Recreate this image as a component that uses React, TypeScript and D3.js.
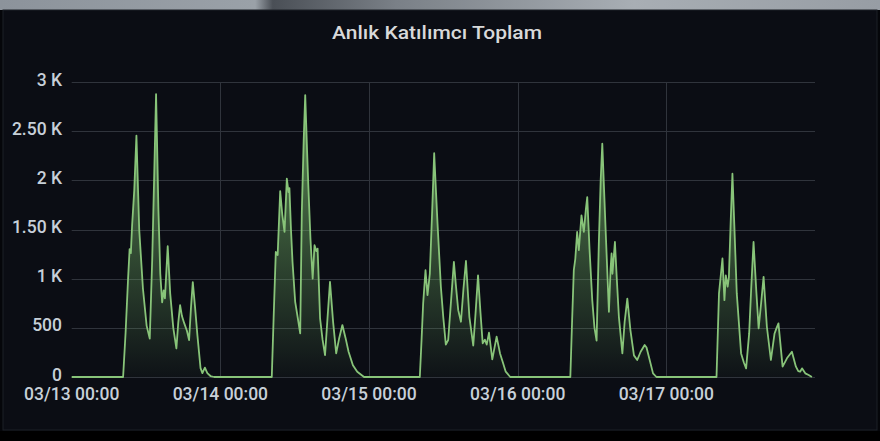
import React, { useEffect, useRef } from 'react';
import * as d3 from 'd3';

// hour of day -> participants
const day13: [number, number][] = [
  [0, 0], [8.3, 0], [8.7, 450], [9.1, 1000], [9.35, 1300], [9.55, 1260], [9.75, 1540], [10.1, 1900],
  [10.45, 2455], [10.9, 1500], [11.5, 900], [12.1, 520], [12.6, 390], [13.0, 1200], [13.3, 2000],
  [13.62, 2877], [14.0, 1700], [14.3, 1050], [14.6, 760], [14.85, 880], [15.05, 800], [15.5, 1330],
  [15.9, 850], [16.4, 500], [16.9, 290], [17.2, 550], [17.5, 730], [17.8, 620], [18.15, 550],
  [18.6, 470], [18.95, 375], [19.25, 700], [19.55, 965], [19.9, 720], [20.3, 420], [20.8, 90],
  [21.1, 40], [21.5, 95], [21.9, 40], [22.4, 10], [23, 0],
];
const day14: [number, number][] = [
  [8.3, 0], [8.6, 600], [8.95, 1272], [9.25, 1240], [9.66, 1890], [10.0, 1650], [10.36, 1475],
  [10.73, 2017], [11.0, 1880], [11.15, 1920], [11.4, 1500], [11.65, 1170], [12.08, 765], [12.5, 600],
  [12.89, 443], [13.15, 1678], [13.45, 2400], [13.7, 2867], [14.0, 2300], [14.2, 1950], [14.55, 1400],
  [14.9, 1000], [15.2, 1340], [15.5, 1280], [15.7, 1305], [16.1, 595], [16.5, 380], [16.9, 223],
  [17.3, 600], [17.7, 967], [18.2, 560], [18.7, 240], [19.2, 400], [19.7, 528], [20.2, 400],
  [20.7, 257], [21.4, 120], [22.1, 54], [23.2, 0],
];
const day15: [number, number][] = [
  [8.2, 0], [8.5, 400], [8.74, 748], [9.12, 1086], [9.44, 832], [9.82, 1052], [10.2, 1700],
  [10.52, 2276], [10.8, 1900], [11.06, 1560], [11.6, 918], [12.0, 600], [12.4, 330], [12.78, 376],
  [13.33, 850], [13.7, 1170], [14.0, 950], [14.4, 680], [14.84, 562], [15.25, 900], [15.65, 1180],
  [16.2, 612], [16.83, 320], [17.2, 650], [17.6, 1034], [18.0, 650], [18.35, 343], [18.7, 380],
  [19.0, 330], [19.37, 450], [19.9, 180], [20.6, 410], [21.15, 240], [21.6, 150], [22.07, 54], [22.8, 0],
];
const day16: [number, number][] = [
  [8.5, 0], [8.8, 600], [9.06, 1086], [9.3, 1200], [9.6, 1475], [9.87, 1290], [10.3, 1643],
  [10.68, 1475], [11.0, 1700], [11.23, 1829], [11.6, 1300], [12.04, 782], [12.4, 500], [12.74, 370],
  [13.1, 1357], [13.4, 2000], [13.66, 2372], [13.95, 1900], [14.2, 1492], [14.73, 663], [15.0, 1100],
  [15.16, 1256], [15.3, 1050], [15.7, 1373], [16.0, 1000], [16.34, 612], [16.9, 240], [17.27, 562],
  [17.7, 798], [18.2, 477], [18.77, 220], [19.3, 173], [19.85, 257], [20.5, 325], [20.8, 300],
  [21.2, 200], [21.85, 37], [22.4, 0],
];
const day17: [number, number][] = [
  [8.1, 0], [8.5, 850], [9.06, 1205], [9.38, 782], [9.6, 1034], [9.9, 918], [10.1, 1019], [10.4, 1600],
  [10.67, 2067], [11.0, 1500], [11.37, 850], [12.07, 240], [12.5, 150], [12.88, 88], [13.37, 443],
  [13.7, 900], [14.08, 1373], [14.5, 900], [14.9, 494], [15.3, 750], [15.7, 1019], [16.23, 511],
  [16.88, 173], [17.47, 443], [17.8, 500], [18.1, 545], [18.77, 105], [19.47, 190], [20.27, 257],
  [20.92, 105], [21.3, 60], [21.6, 54], [21.9, 88], [22.43, 37], [22.97, 20], [23.5, 0],
];

const days = [day13, day14, day15, day16, day17];
const yTicks = [0, 500, 1000, 1500, 2000, 2500, 3000];
const yTickLabels = ['0', '500', '1 K', '1.50 K', '2 K', '2.50 K', '3 K'];
const title = 'Anlık Katılımcı Toplam';

const W = 880;
const H = 441;
const start = new Date(2021, 2, 13, 0, 0);
const end = new Date(2021, 2, 18, 0, 0);

const App = () => {
  const ref = useRef<SVGSVGElement>(null);

  useEffect(() => {
    document.body.style.margin = '0';
    const svg = d3.select(ref.current);
    svg.selectAll('*').remove();

    const x = d3.scaleTime().domain([start, end]).range([71.7, 815]);
    const y = d3.scaleLinear().domain([0, 3000]).range([377, 82]);

    const data = days.flatMap((d, i) =>
      d.map(([h, v]) => ({ t: new Date(start.getTime() + (i * 24 + h) * 3600e3), v }))
    );

    // backdrop
    const defs = svg.append('defs');
    const top = defs.append('linearGradient').attr('id', 'topstrip');
    [
      [0, '#8c939b'], [0.29, '#9aa1a8'], [0.31, '#4a4f56'], [0.45, '#7a8087'], [0.72, '#a8aeb4'], [1, '#979da4'],
    ].forEach(([o, c]) => top.append('stop').attr('offset', o as number).attr('stop-color', c as string));

    const fill = defs
      .append('linearGradient')
      .attr('id', 'areafill')
      .attr('gradientUnits', 'userSpaceOnUse')
      .attr('x1', 0).attr('x2', 0)
      .attr('y1', y(3000)).attr('y2', y(0));
    fill.append('stop').attr('offset', 0).attr('stop-color', '#7ec36f').attr('stop-opacity', 0.75);
    fill.append('stop').attr('offset', 1).attr('stop-color', '#7ec36f').attr('stop-opacity', 0.03);

    svg.append('rect').attr('width', W).attr('height', H).attr('fill', '#05060a');
    svg.append('rect').attr('width', W).attr('height', 10).attr('fill', 'url(#topstrip)');
    svg
      .append('rect')
      .attr('x', 3).attr('y', 10).attr('width', 874).attr('height', 420)
      .attr('fill', '#0b0d14')
      .attr('stroke', '#1d2027');
    svg.append('rect').attr('x', 0).attr('y', 431).attr('width', W).attr('height', 10).attr('fill', '#000');

    svg
      .append('text')
      .attr('x', 437).attr('y', 34)
      .attr('text-anchor', 'middle')
      .attr('dominant-baseline', 'middle')
      .attr('fill', '#d8d9da')
      .attr('textLength', 210)
      .attr('lengthAdjust', 'spacingAndGlyphs')
      .style('font-family', 'Roboto, sans-serif')
      .style('font-weight', 500)
      .style('font-size', '19px')
      .text(title);

    // grid
    const grid = svg.append('g').attr('stroke', '#30343c').attr('stroke-width', 1);
    grid
      .selectAll('line.h')
      .data(yTicks)
      .enter()
      .append('line')
      .attr('x1', x.range()[0]).attr('x2', x.range()[1])
      .attr('y1', (d) => Math.round(y(d)) + 0.5)
      .attr('y2', (d) => Math.round(y(d)) + 0.5);

    const dayTicks = d3.timeDay.range(start, end);
    grid
      .selectAll('line.v')
      .data(dayTicks.slice(1))
      .enter()
      .append('line')
      .attr('x1', (d) => Math.round(x(d)) + 0.5).attr('x2', (d) => Math.round(x(d)) + 0.5)
      .attr('y1', y(3000)).attr('y2', y(0));

    const labelStyle = (s: any) =>
      s
        .attr('fill', '#c7d0d9')
        .style('font-family', 'Roboto, sans-serif')
        .style('font-weight', 500)
        .style('font-size', '17.5px');

    svg
      .append('g')
      .selectAll('text')
      .data(yTicks)
      .enter()
      .append('text')
      .attr('x', 62)
      .attr('y', (d) => y(d) - 1)
      .attr('text-anchor', 'end')
      .attr('dominant-baseline', 'middle')
      .text((d, i) => yTickLabels[i])
      .call(labelStyle);

    const fmt = d3.timeFormat('%m/%d %H:%M');
    svg
      .append('g')
      .selectAll('text')
      .data(dayTicks)
      .enter()
      .append('text')
      .attr('x', (d) => x(d))
      .attr('y', 395)
      .attr('text-anchor', 'middle')
      .attr('dominant-baseline', 'middle')
      .text((d) => fmt(d))
      .call(labelStyle);

    // series
    const area = d3
      .area<{ t: Date; v: number }>()
      .x((d) => x(d.t))
      .y0(y(0))
      .y1((d) => y(d.v));
    const line = d3
      .line<{ t: Date; v: number }>()
      .x((d) => x(d.t))
      .y((d) => y(d.v));

    svg.append('path').datum(data).attr('d', area).attr('fill', 'url(#areafill)');
    svg
      .append('path')
      .datum(data)
      .attr('d', line)
      .attr('fill', 'none')
      .attr('stroke', '#88c479')
      .attr('stroke-width', 1.8)
      .attr('stroke-linejoin', 'round');
  }, []);

  return <svg ref={ref} width={W} height={H} style={{ display: 'block' }} />;
};

export default App;
